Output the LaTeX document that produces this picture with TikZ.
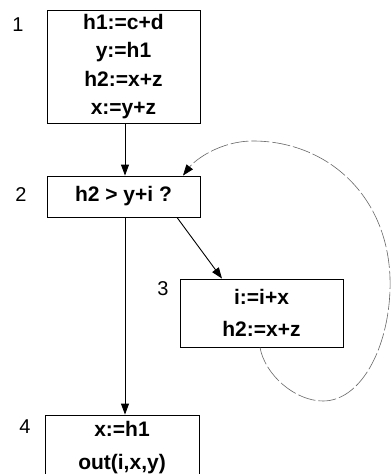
\documentclass[tikz,border=0pt]{standalone}
\usepackage{fontspec}
\setmainfont{Liberation Sans}
\usetikzlibrary{arrows.meta}
\begin{document}
\begin{tikzpicture}[x=1pt,y=-1pt,
  blk/.style={draw=black,line width=0.9pt,inner sep=0pt,align=center,font=\fontsize{21}{28.5}\selectfont\bfseries},
  num/.style={inner sep=0pt,font=\fontsize{20}{24}\selectfont},
  flow/.style={line width=0.9pt,-{Triangle[length=11pt,width=8pt]}},
  back/.style={line width=0.6pt,draw=black!60,dash pattern=on 18pt off 3pt,-{Triangle[length=11pt,width=8pt,color=black]}}]
\clip (0,0) rectangle (391,474);
\fill[white] (0,0) rectangle (391,474);
% boxes
\node[blk,minimum width=153pt,minimum height=113pt] (b1) at (123.5,66.5) {h1:=c+d\\y:=h1\\h2:=x+z\\x:=y+z};
\node[blk,minimum width=153pt,minimum height=41pt] (b2) at (123.5,196.5) {h2 > y+i ?};
\node[blk,minimum width=163pt,minimum height=68pt,font=\fontsize{21}{32}\selectfont\bfseries] (b3) at (261.5,313) {i:=i+x\\h2:=x+z};
\node[blk,minimum width=154pt,minimum height=66pt,font=\fontsize{21}{33}\selectfont\bfseries] (b4) at (122,448) {x:=h1\\out(i,x,y)};
% labels
\node[num] (n1) at (18,25) {1};
\node[num] (n2) at (21,195) {2};
\node[num] (n3) at (163,289) {3};
\node[num] (n4) at (25,427) {4};
% connectors
\draw[flow] (b1.south -| 125,0) -- (b2.north -| 125,0);
\draw[flow] (b2.south -| 125,0) -- (b4.north -| 125,0);
\draw[flow] (b2.south -| 177,0) -- (b3.north -| 222,0);
\coordinate (lp) at (253,141);
\draw[back] (b3.south -| 260,0) .. controls (265,375) and (295,401) .. (323,401)
  .. controls (360,401) and (388,350) .. (390,290)
  .. controls (393,200) and (330,141) .. (lp)
  .. controls (220,141) and (195,160) .. (b2.north -| 183,0);
\end{tikzpicture}
\end{document}
